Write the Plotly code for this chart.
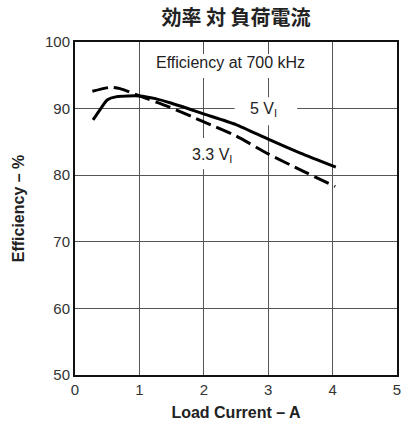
import plotly.graph_objects as go

# Efficiency vs. load current at 700 kHz switching frequency
load_5v = [0.28, 0.40, 0.50, 0.65, 1.00, 1.25, 1.50, 2.00, 2.50, 3.00, 3.50, 4.05]
eff_5v = [88.3, 90.0, 91.3, 91.8, 91.9, 91.5, 90.8, 89.2, 87.6, 85.4, 83.3, 81.2]

load_3v3 = [0.27, 0.55, 0.70, 1.00, 1.45, 2.00, 2.50, 3.00, 3.50, 4.04]
eff_3v3 = [92.6, 93.2, 93.0, 91.9, 90.3, 88.0, 85.9, 83.2, 80.8, 78.3]

x_ticks = [0, 1, 2, 3, 4, 5]
y_ticks = [50, 60, 70, 80, 90, 100]

fig = go.Figure()
fig.add_trace(go.Scatter(x=load_5v, y=eff_5v, mode="lines", name="5 V",
                         line=dict(color="black", width=3, shape="spline", smoothing=0.6)))
fig.add_trace(go.Scatter(x=load_3v3, y=eff_3v3, mode="lines", name="3.3 V",
                         line=dict(color="black", width=3, dash="16px,6px",
                                   shape="spline", smoothing=0.6)))

font = "Liberation Sans, Arial, sans-serif"
fig.update_layout(
    width=407, height=425,
    margin=dict(l=75, r=6, t=42, b=50),
    paper_bgcolor="white", plot_bgcolor="white",
    showlegend=False,
    font=dict(family=font, color="#222"),
    title=dict(text="<b>効率 対 負荷電流</b>", x=0.58, xanchor="center", y=0.958, yanchor="middle",
               font=dict(family="Noto Sans CJK JP", size=20, color="#222")),
    xaxis=dict(range=[0, 5], tickvals=x_ticks, showgrid=True, gridcolor="#555", gridwidth=1,
               showline=True, linecolor="#111", linewidth=2, mirror=True, zeroline=False,
               ticks="", tickfont=dict(size=15, color="#333"),
               title=dict(text="<b>Load Current – A</b>", font=dict(size=16, color="#222"), standoff=10)),
    yaxis=dict(range=[50, 100], tickvals=y_ticks, showgrid=True, gridcolor="#555", gridwidth=1,
               showline=True, linecolor="#111", linewidth=2, mirror=True, zeroline=False,
               ticks="", tickfont=dict(size=15, color="#333"),
               title=dict(text="<b>Efficiency – %</b>", font=dict(size=16, color="#222"), standoff=16)),
)

# white patches behind the labels, drawn over the grid but under the curves
label_boxes = [(1.15, 3.68, 94.6, 98.2), (2.48, 3.45, 87.5, 91.7), (1.69, 2.61, 80.9, 85.6)]
for x0, x1, y0, y1 in label_boxes:
    fig.add_shape(type="rect", xref="x", yref="y", x0=x0, x1=x1, y0=y0, y1=y1,
                  fillcolor="white", line=dict(width=0), layer="between")

fig.add_annotation(x=2.41, y=96.9, text="Efficiency at 700 kHz", showarrow=False,
                   font=dict(size=16, color="#222"))
fig.add_annotation(x=2.92, y=89.8, text="5 V<sub>I</sub>", showarrow=False,
                   font=dict(size=16, color="#222"))
fig.add_annotation(x=2.13, y=83.0, text="3.3 V<sub>I</sub>", showarrow=False,
                   font=dict(size=16, color="#222"))

fig.write_html("out.html")
